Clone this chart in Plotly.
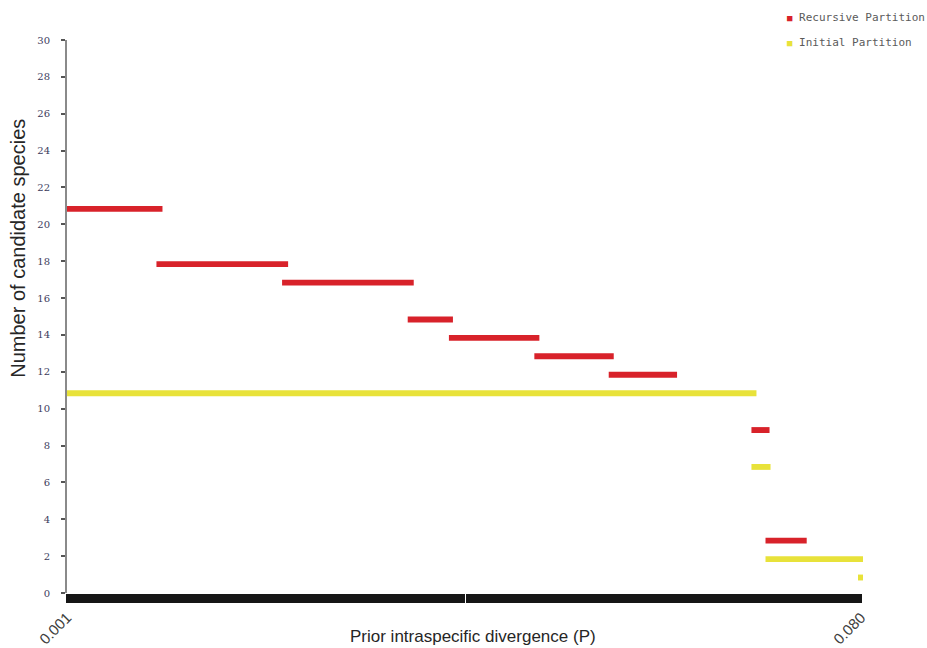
import numpy as np
import plotly.graph_objects as go

# Ranges of P over which each partition gives a constant species count
recursive_start = [0.0010, 0.0099, 0.0224, 0.0349, 0.0390, 0.0475, 0.0549, 0.0691, 0.0705]
recursive_end = [0.0105, 0.0230, 0.0355, 0.0394, 0.0480, 0.0554, 0.0617, 0.0709, 0.0746]
recursive_count = [21, 18, 17, 15, 14, 13, 12, 9, 3]

initial_start = [0.0010, 0.0691, 0.0705, 0.0797]
initial_end = [0.0696, 0.0710, 0.0802, 0.0802]
initial_count = [11, 7, 2, 1]

x_range = [0.001, 0.080]
x_tick_labels = ["0.001", "0.080"]
y_ticks = list(range(0, 31, 2))

RED = "#d8222a"
YELLOW = "#e8e23a"
BAR_THICK = 0.32

fig = go.Figure()


def add_segments(starts, ends, counts, color, name):
    fig.add_trace(go.Bar(
        orientation="h",
        y=counts,
        base=starts,
        x=[e - s for s, e in zip(starts, ends)],
        width=BAR_THICK,
        offset=-BAR_THICK,
        marker=dict(color=color, line=dict(width=0)),
        cliponaxis=False,
        showlegend=False,
        name=name,
    ))


add_segments(initial_start, initial_end, initial_count, YELLOW, "Initial Partition")
add_segments(recursive_start, recursive_end, recursive_count, RED, "Recursive Partition")

# dense tick band along the P axis, labelled only at both ends
n_ticks = 265
tick_vals = np.linspace(x_range[0], x_range[1], n_ticks)
tick_text = [x_tick_labels[0]] + [""] * (n_ticks - 2) + [x_tick_labels[1]]

# a little headroom past 0.080 so the last segments are not cut off
x_view = [x_range[0], 0.0803]

fig.update_layout(
    width=927,
    height=648,
    margin=dict(l=67, r=63, t=40, b=55),
    paper_bgcolor="white",
    plot_bgcolor="white",
    barmode="overlay",
    xaxis=dict(
        range=x_view,
        automargin=False,
        tickmode="array",
        tickvals=tick_vals,
        ticktext=tick_text,
        ticks="outside",
        ticklen=9,
        tickwidth=2.5,
        tickcolor="#161616",
        tickangle=-45,
        tickfont=dict(family="Liberation Sans", size=15, color="#404040"),
        showline=False,
        showgrid=False,
        zeroline=False,
    ),
    yaxis=dict(
        range=[0, 30],
        automargin=False,
        tickmode="array",
        tickvals=y_ticks,
        ticks="outside",
        ticklen=4,
        tickwidth=2,
        tickcolor="#555555",
        ticklabelstandoff=9,
        tickfont=dict(family="DejaVu Serif", size=10, color="#3c3c5c"),
        showline=True,
        linecolor="#8a8a8a",
        linewidth=2,
        showgrid=False,
        zeroline=False,
    ),
    showlegend=False,
)

fig.add_annotation(
    text="Prior intraspecific divergence (P)",
    xref="paper", yref="paper", x=0.509, y=-0.078,
    xanchor="center", yanchor="middle", showarrow=False,
    font=dict(family="Liberation Sans", size=17, color="#262626"),
)
fig.add_annotation(
    text="Number of candidate species",
    xref="paper", yref="paper", x=-0.0617, y=0.624,
    xanchor="center", yanchor="middle", textangle=-90, showarrow=False,
    font=dict(family="Liberation Sans", size=20, color="#262626"),
)

legend_items = [("Recursive Partition", RED, 1.0398), ("Initial Partition", YELLOW, 0.9946)]
for label, color, ypos in legend_items:
    fig.add_annotation(
        text=f'<span style="color:{color};font-size:9px">■</span> {label}',
        xref="paper", yref="paper", x=0.9005, y=ypos,
        xanchor="left", yanchor="middle", showarrow=False,
        font=dict(family="DejaVu Sans Mono", size=11, color="#5a5a5a"),
    )

fig.write_html("out.html")
